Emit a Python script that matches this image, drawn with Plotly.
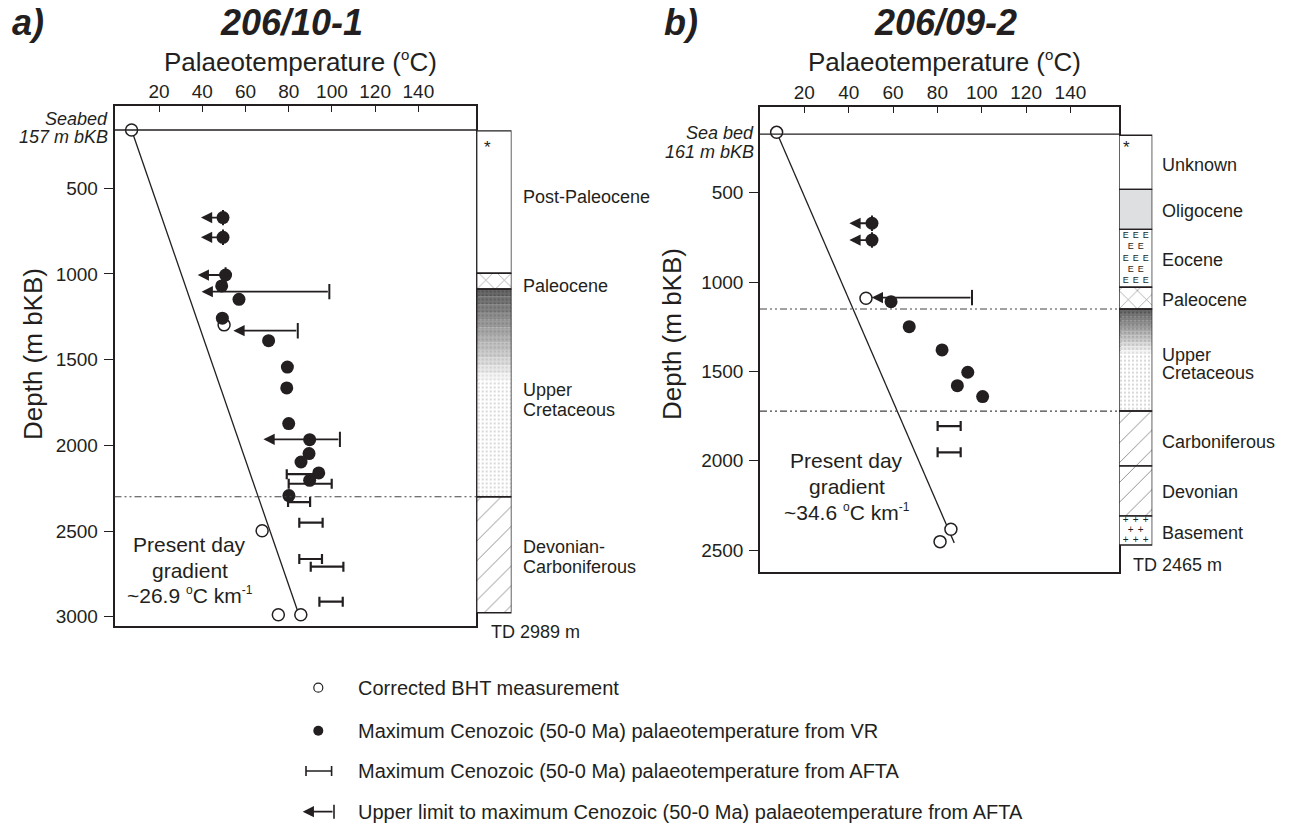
import plotly.graph_objects as go

W, H = 1291, 830
FONT = "Arial, 'Liberation Sans', sans-serif"
INK = "#231f20"

# ---------------- Panel a : 206/10-1 ----------------
a_vr_T = [49.6, 49.6, 50.8, 49.0, 57.0, 49.3, 70.7, 79.4, 79.1, 80.0, 89.7, 89.4, 85.7, 93.9, 89.7, 80.1]
a_vr_D = [671, 786, 1006, 1070, 1148, 1258, 1389, 1543, 1665, 1873, 1967, 2048, 2097, 2161, 2204, 2293]
a_bht_T = [7.3, 50.1, 67.7, 75.2, 85.6]
a_bht_D = [160, 1297, 2498, 2988, 2988]
a_afta_D = [2168, 2224, 2331, 2451, 2663, 2708, 2912]
a_afta_lo = [79.1, 80.0, 79.7, 84.9, 84.9, 90.2, 94.2]
a_afta_hi = [92.0, 99.9, 89.9, 95.7, 95.4, 105.3, 105.0]
a_lim_D = [671, 786, 1006, 1103, 1331, 1965]
a_lim_lo = [39.4, 39.4, 37.9, 39.7, 54.4, 68.3]
a_lim_hi = [49.6, 49.6, 50.8, 98.8, 84.2, 103.7]
a_grad_T = [7.3, 84.5]
a_grad_D = [160, 2980]
a_seabed_D = 160
a_boundary_D = [2300]
a_units = ["Post-Paleocene", "Paleocene", "Upper Cretaceous", "Devonian-Carboniferous"]
a_tops = [165, 996, 1088, 2300]
a_bases = [996, 1088, 2300, 2977]

# ---------------- Panel b : 206/09-2 ----------------
b_vr_T = [50.5, 50.5, 59.1, 67.3, 82.1, 93.7, 89.0, 100.4]
b_vr_D = [671, 765, 1110, 1250, 1380, 1505, 1580, 1641]
b_bht_T = [7.5, 47.8, 86.1, 81.2]
b_bht_D = [162, 1091, 2384, 2453]
b_afta_D = [1806, 1953]
b_afta_lo = [80.1, 80.1]
b_afta_hi = [90.5, 90.5]
b_lim_D = [671, 765, 1087]
b_lim_lo = [40.3, 40.3, 50.4]
b_lim_hi = [50.5, 50.5, 95.6]
b_grad_T = [7.5, 87.6]
b_grad_D = [162, 2460]
b_seabed_D = 172
b_boundary_D = [1151, 1722]
b_units = ["Unknown", "Oligocene", "Eocene", "Paleocene", "Upper Cretaceous",
           "Carboniferous", "Devonian", "Basement"]
b_tops = [178, 481, 705, 1029, 1151, 1722, 2029, 2309]
b_bases = [481, 705, 1029, 1151, 1722, 2029, 2309, 2472]

temp_ticks = [20, 40, 60, 80, 100, 120, 140]
a_depth_ticks = [500, 1000, 1500, 2000, 2500, 3000]
b_depth_ticks = [500, 1000, 1500, 2000, 2500]


def px(x):
    return x / W


def py(y):
    return 1 - y / H


fig = go.Figure()


def add_panel(xa, ya, xc, vr_T, vr_D, bht_T, bht_D, afta_D, afta_lo, afta_hi,
              lim_D, lim_lo, lim_hi, grad_T, grad_D, units, tops, bases):
    # present-day gradient
    fig.add_trace(go.Scatter(x=grad_T, y=grad_D, mode="lines", xaxis=xa, yaxis=ya,
                             line=dict(color=INK, width=1.3), hoverinfo="skip"))
    # AFTA ranges
    mid = [(l + h) / 2 for l, h in zip(afta_lo, afta_hi)]
    half = [(h - l) / 2 for l, h in zip(afta_lo, afta_hi)]
    fig.add_trace(go.Scatter(x=mid, y=afta_D, mode="markers", xaxis=xa, yaxis=ya,
                             marker=dict(size=1, color="rgba(0,0,0,0)"),
                             error_x=dict(type="data", array=half, symmetric=True,
                                          color=INK, thickness=2.2, width=5)))
    # upper limits: cap at right end, arrow to left
    fig.add_trace(go.Scatter(x=lim_hi, y=lim_D, mode="markers", xaxis=xa, yaxis=ya,
                             marker=dict(symbol="line-ns", size=11,
                                         line=dict(color=INK, width=2))))
    for d, lo, hi in zip(lim_D, lim_lo, lim_hi):
        fig.add_annotation(x=lo, y=d, ax=hi, ay=d, xref=xa, yref=ya,
                           axref=xa, ayref=ya, text="", showarrow=True,
                           arrowhead=2, arrowsize=1.25, arrowwidth=1.8,
                           arrowcolor=INK)
    # BHT
    fig.add_trace(go.Scatter(x=bht_T, y=bht_D, mode="markers", xaxis=xa, yaxis=ya,
                             marker=dict(size=12, color="white",
                                         line=dict(color=INK, width=1.5))))
    # VR
    fig.add_trace(go.Scatter(x=vr_T, y=vr_D, mode="markers", xaxis=xa, yaxis=ya,
                             marker=dict(size=13, color=INK, line=dict(width=0))))

    # stratigraphic column
    def bar(top, base, color="white", pattern=None):
        fig.add_trace(go.Bar(x=[0], y=[base - top], base=[top], width=[1],
                             xaxis=xc, yaxis=ya,
                             marker=dict(color=color, line=dict(width=0),
                                         pattern=pattern or dict(shape="")),
                             hoverinfo="skip"))

    for name, top, base in zip(units, tops, bases):
        if name in ("Post-Paleocene", "Unknown"):
            bar(top, base)
        elif name == "Oligocene":
            bar(top, base, "#dedfe0")
        elif name == "Paleocene":
            bar(top, base, "white", dict(shape="x", size=13, solidity=0.1,
                                         fgcolor=INK, bgcolor="white"))
        elif name == "Upper Cretaceous":
            n = 12
            fade = 0.44 * (base - top)
            step = fade / n
            for i in range(n):
                g = int(105 + (245 - 105) * i / (n - 1))
                c = f"rgb({g},{g},{g})"
                fg = f"rgb({max(g-45,0)},{max(g-45,0)},{max(g-45,0)})"
                bar(top + i * step, top + (i + 1) * step + 1, c,
                    dict(shape=".", size=4, solidity=0.3, fgcolor=fg, bgcolor=c))
            bar(top + fade, base, "white",
                dict(shape=".", size=4, solidity=0.25, fgcolor="#b0b0b0", bgcolor="white"))
        elif name in ("Devonian-Carboniferous", "Carboniferous", "Devonian"):
            bar(top, base, "white", dict(shape="/", size=14, solidity=0.07,
                                         fgcolor=INK, bgcolor="white"))
        elif name == "Eocene":
            bar(top, base)
            rows = 5
            xs, ys = [], []
            for r in range(rows):
                yy = top + (r + 0.6) * (base - top) / (rows + 0.2)
                cols = [-0.3, 0.0, 0.3] if r % 2 == 0 else [-0.15, 0.15]
                for cx in cols:
                    xs.append(cx)
                    ys.append(yy)
            fig.add_trace(go.Scatter(x=xs, y=ys, mode="text", text=["E"] * len(xs),
                                     xaxis=xc, yaxis=ya,
                                     textfont=dict(size=9, color=INK, family=FONT)))
        elif name == "Basement":
            bar(top, base)
            xs, ys = [], []
            for r in range(3):
                yy = top + (r + 0.5) * (base - top) / 3
                cols = [-0.3, 0.0, 0.3] if r % 2 == 0 else [-0.15, 0.15]
                for cx in cols:
                    xs.append(cx)
                    ys.append(yy)
            fig.add_trace(go.Scatter(x=xs, y=ys, mode="text", text=["+"] * len(xs),
                                     xaxis=xc, yaxis=ya,
                                     textfont=dict(size=10, color=INK, family=FONT)))
    # outlines
    for top, base in zip(tops, bases):
        fig.add_trace(go.Bar(x=[0], y=[base - top], base=[top], width=[1],
                             xaxis=xc, yaxis=ya,
                             marker=dict(color="rgba(0,0,0,0)",
                                         line=dict(color=INK, width=1.4)),
                             hoverinfo="skip"))


add_panel("x", "y", "x2", a_vr_T, a_vr_D, a_bht_T, a_bht_D, a_afta_D, a_afta_lo,
          a_afta_hi, a_lim_D, a_lim_lo, a_lim_hi, a_grad_T, a_grad_D,
          a_units, a_tops, a_bases)
add_panel("x3", "y2", "x4", b_vr_T, b_vr_D, b_bht_T, b_bht_D, b_afta_D, b_afta_lo,
          b_afta_hi, b_lim_D, b_lim_lo, b_lim_hi, b_grad_T, b_grad_D,
          b_units, b_tops, b_bases)

# seabed and boundary lines
for xa, ya, sd, bds in (("x", "y", a_seabed_D, a_boundary_D),
                        ("x3", "y2", b_seabed_D, b_boundary_D)):
    fig.add_shape(type="line", xref=f"{xa} domain", yref=ya, x0=0, x1=1,
                  y0=sd, y1=sd, line=dict(color=INK, width=1.4))
    for bd in bds:
        fig.add_shape(type="line", xref=f"{xa} domain", yref=ya, x0=0, x1=1,
                      y0=bd, y1=bd,
                      line=dict(color="#444444", width=1.2,
                                dash="7px,3px,2px,3px,2px,3px"))

# ---------------- legend (pixel axis) ----------------
fig.add_trace(go.Scatter(x=[318.3], y=[687.7], mode="markers", xaxis="x5", yaxis="y3",
                         marker=dict(size=9, color="white", line=dict(color=INK, width=1.2))))
fig.add_trace(go.Scatter(x=[318.3], y=[730.7], mode="markers", xaxis="x5", yaxis="y3",
                         marker=dict(size=10, color=INK)))
fig.add_trace(go.Scatter(x=[318.8], y=[771], mode="markers", xaxis="x5", yaxis="y3",
                         marker=dict(size=1, color="rgba(0,0,0,0)"),
                         error_x=dict(type="data", array=[12.8], color=INK,
                                      thickness=1.6, width=5)))
fig.add_trace(go.Scatter(x=[334], y=[811.7], mode="markers", xaxis="x5", yaxis="y3",
                         marker=dict(symbol="line-ns", size=10, line=dict(color=INK, width=1.6))))
fig.add_annotation(x=302.7, y=811.7, ax=334, ay=811.7, xref="x5", yref="y3",
                   axref="x5", ayref="y3", text="", showarrow=True, arrowhead=2,
                   arrowsize=1.25, arrowwidth=1.8, arrowcolor=INK)

legend_texts = ["Corrected BHT measurement",
                "Maximum Cenozoic (50-0 Ma) palaeotemperature from VR",
                "Maximum Cenozoic (50-0 Ma) palaeotemperature from AFTA",
                "Upper limit to maximum Cenozoic (50-0 Ma) palaeotemperature from AFTA"]
legend_y = [687.7, 730.7, 771, 811.7]


def text(x, y, s, size, xanchor="center", angle=0):
    fig.add_annotation(x=px(x), y=py(y), xref="paper", yref="paper", text=s,
                       showarrow=False, xanchor=xanchor, yanchor="middle",
                       textangle=angle,
                       font=dict(family=FONT, size=size, color=INK))


for s, y in zip(legend_texts, legend_y):
    text(356, y, s, 20, "left")

DEG_BIG = "<sup><span style='font-size:15px'>o</span></sup>"
DEG_SMALL = "<sup><span style='font-size:12px'>o</span></sup>"

# titles
text(10, 23, "<b><i>a)</i></b>", 36, "left")
text(291.3, 23, "<b><i>206/10-1</i></b>", 36)
text(661.7, 23, "<b><i>b)</i></b>", 36, "left")
text(945.5, 23, "<b><i>206/09-2</i></b>", 36)
# axis titles
text(300.5, 61, f"Palaeotemperature ({DEG_BIG}C)", 26)
text(944, 61, f"Palaeotemperature ({DEG_BIG}C)", 26)
text(33, 354, "Depth (m bKB)", 26, angle=-90)
text(672, 334, "Depth (m bKB)", 26, angle=-90)
# seabed labels
text(110, 119, "<i>Seabed</i>", 18, "right")
text(110, 137, "<i>157 m bKB</i>", 18, "right")
text(756, 133, "<i>Sea bed</i>", 18, "right")
text(756, 152, "<i>161 m bKB</i>", 18, "right")
# gradient labels
text(190, 544, "Present day", 21)
text(190, 570, "gradient", 21)
text(190, 595, f"~26.9 {DEG_SMALL}C km<sup><span style='font-size:12px'>-1</span></sup>", 21)
text(846.7, 460, "Present day", 21)
text(846.7, 486.7, "gradient", 21)
text(846.7, 511.7, f"~34.6 {DEG_SMALL}C km<sup><span style='font-size:12px'>-1</span></sup>", 21)
# column labels
text(487, 148, "*", 17)
text(1126, 147, "*", 17)
for s, y in (("Post-Paleocene", 197.3), ("Paleocene", 285.7), ("Upper", 390),
             ("Cretaceous", 410), ("Devonian-", 546.7), ("Carboniferous", 566.7)):
    text(520.7, y, s, 18, "left")
text(489, 632, "TD 2989 m", 18, "left")
for s, y in (("Unknown", 165), ("Oligocene", 210.7), ("Eocene", 260), ("Paleocene", 300),
             ("Upper", 355), ("Cretaceous", 372.7), ("Carboniferous", 441.7),
             ("Devonian", 492.3), ("Basement", 533.3)):
    text(1160, y, s, 18, "left")
text(1130.7, 565, "TD 2465 m", 18, "left")

tickfont = dict(family=FONT, size=19, color=INK)
common_x = dict(side="top", ticks="inside", ticklen=7, tickwidth=1.3, tickcolor=INK,
                showline=True, linecolor=INK, linewidth=1.5, mirror=True,
                showgrid=False, zeroline=False, tickvals=temp_ticks,
                ticktext=[str(t) for t in temp_ticks], tickfont=tickfont,
                ticklabelstandoff=-2)
common_y = dict(ticks="outside", ticklen=9, tickwidth=1.3, tickcolor=INK,
                showline=True, linecolor=INK, linewidth=1.5, mirror=True,
                showgrid=False, zeroline=False, tickfont=tickfont,
                ticklabelstandoff=2)

fig.update_layout(
    width=W, height=H, margin=dict(l=0, r=0, t=0, b=0),
    paper_bgcolor="white", plot_bgcolor="rgba(0,0,0,0)",
    showlegend=False, barmode="overlay",
    xaxis=dict(domain=[px(114.5), px(476.3)], range=[-0.6, 166.8], anchor="y", **common_x),
    yaxis=dict(domain=[py(626), py(105.5)], range=[3054, 17], anchor="x",
               tickvals=a_depth_ticks, ticktext=[str(t) for t in a_depth_ticks], **common_y),
    xaxis2=dict(domain=[px(476.7), px(511.5)], range=[-0.5, 0.5], anchor="y",
                visible=False),
    xaxis3=dict(domain=[px(760), px(1119)], range=[0, 161.9], anchor="y2", **common_x),
    yaxis2=dict(domain=[py(572.3), py(106.7)], range=[2624.7, 18.5], anchor="x3",
                tickvals=b_depth_ticks, ticktext=[str(t) for t in b_depth_ticks], **common_y),
    xaxis4=dict(domain=[px(1119), px(1152.3)], range=[-0.5, 0.5], anchor="y2",
                visible=False),
    xaxis5=dict(domain=[0, 1], range=[0, W], anchor="y3", visible=False),
    yaxis3=dict(domain=[0, 1], range=[H, 0], anchor="x5", visible=False),
)

fig.write_html("out.html")
